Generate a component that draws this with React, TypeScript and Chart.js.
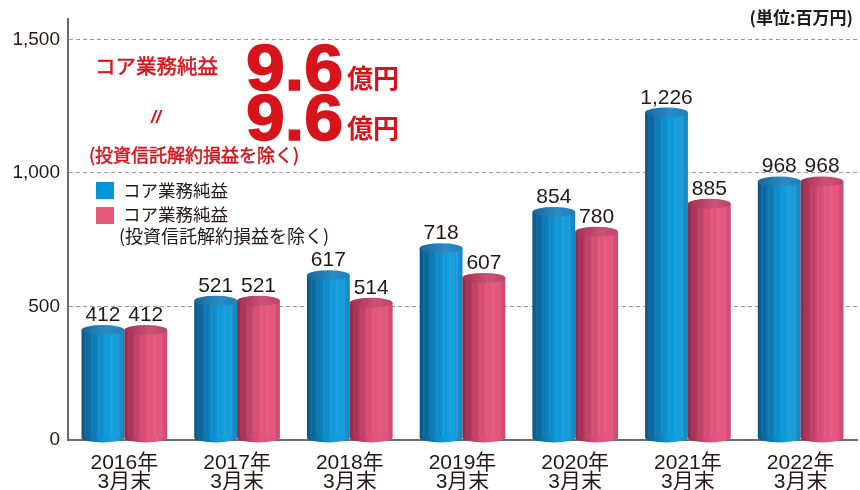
import React, { useEffect, useRef } from 'react';
import { Chart, registerables } from 'chart.js';

Chart.register(...registerables);

const years = ['2016年', '2017年', '2018年', '2019年', '2020年', '2021年', '2022年'];
const monthLabel = '3月末';
const coreProfit = [412, 521, 617, 718, 854, 1226, 968];
const coreProfitExcl = [412, 521, 514, 607, 780, 885, 968];
const yTicks = [0, 500, 1000, 1500];
const yMax = 1575;

const seriesNames = ['コア業務純益', 'コア業務純益(投資信託解約損益を除く)'];
const legendLines = [['コア業務純益'], ['コア業務純益', '(投資信託解約損益を除く)']];
const unitText = '(単位:百万円)';
const headline1 = 'コア業務純益';
const headlineNote = '(投資信託解約損益を除く)';
const headlineValue = '9.6';
const headlineUnit = '億円';

const LATIN = "'Liberation Sans', 'Noto Sans CJK JP', sans-serif";
const CJK = "'Noto Sans CJK JP', 'Liberation Sans', sans-serif";
const TEXT = '#231815';
const RED = '#d7141c';

const palettes = [
  {
    stops: ['#0a5684', '#0b6ea6', '#0a88c6', '#0c9ad9', '#1a9fdc', '#0f86c2'],
    top: ['#17689a', '#2b8cc4', '#1f7fb8'],
    swatch: '#0096d6',
  },
  {
    stops: ['#8f2648', '#b2385e', '#d24a72', '#e2557e', '#e4587f', '#cf4670'],
    top: ['#9e3052', '#cc5274', '#bd4467'],
    swatch: '#e5577b',
  },
];

const cylinderPlugin = {
  id: 'cylinders',
  afterDatasetsDraw(chart: any) {
    const ctx = chart.ctx;
    chart.data.datasets.forEach((ds: any, di: number) => {
      const meta = chart.getDatasetMeta(di);
      const pal = palettes[di];
      meta.data.forEach((bar: any, i: number) => {
        const { x, y, base, width } = bar.getProps(['x', 'y', 'base', 'width'], true);
        const rx = width / 2;
        const ry = 5;
        const bBase = base - 2;
        ctx.save();
        const g = ctx.createLinearGradient(x - rx, 0, x + rx, 0);
        const n = pal.stops.length;
        pal.stops.forEach((c: string, k: number) => g.addColorStop(k / (n - 1), c));
        ctx.beginPath();
        ctx.moveTo(x - rx, y);
        ctx.lineTo(x - rx, bBase);
        ctx.ellipse(x, bBase, rx, ry, 0, Math.PI, 0, true);
        ctx.lineTo(x + rx, y);
        ctx.closePath();
        ctx.fillStyle = g;
        ctx.fill();
        ctx.globalAlpha = 0.08;
        ctx.fillStyle = '#ffffff';
        for (let s = 0; s < 6; s++) {
          const sx = x - rx + (width * (s * 2 + 1)) / 13;
          ctx.fillRect(sx, y, 1.5, bBase - y);
        }
        ctx.globalAlpha = 1;
        const tg = ctx.createLinearGradient(x - rx, 0, x + rx, 0);
        tg.addColorStop(0, pal.top[0]);
        tg.addColorStop(0.6, pal.top[1]);
        tg.addColorStop(1, pal.top[2]);
        ctx.beginPath();
        ctx.ellipse(x, y, rx, ry, 0, 0, Math.PI * 2);
        ctx.fillStyle = tg;
        ctx.fill();
        const v = ds.data[i];
        ctx.fillStyle = TEXT;
        ctx.font = `21px ${LATIN}`;
        ctx.textAlign = 'center';
        ctx.textBaseline = 'alphabetic';
        ctx.fillText(v.toLocaleString('en-US'), x, y - ry - 4);
        ctx.restore();
      });
    });
  },
  afterDraw(chart: any) {
    const ctx = chart.ctx;
    ctx.save();
    // unit
    ctx.fillStyle = TEXT;
    ctx.font = `bold 17px ${CJK}`;
    ctx.textBaseline = 'middle';
    ctx.textAlign = 'right';
    ctx.fillText(unitText, 853, 18);
    ctx.textAlign = 'left';

    // headline
    ctx.fillStyle = RED;
    ctx.strokeStyle = RED;
    ctx.font = `20.5px ${CJK}`;
    ctx.textBaseline = 'middle';
    ctx.fillText(headline1, 95, 66.5);
    ctx.lineWidth = 0.5;
    ctx.strokeText(headline1, 95, 66.5);
    ctx.font = `italic bold 18px ${LATIN}`;
    ctx.fillText('//', 151, 118);
    ctx.font = `18px ${CJK}`;
    ctx.fillText(headlineNote, 89, 155.5);
    ctx.strokeText(headlineNote, 89, 155.5);

    ctx.font = `bold 64px ${LATIN}`;
    ctx.textBaseline = 'alphabetic';
    ctx.lineWidth = 1.5;
    [90, 140].forEach((by) => {
      ctx.save();
      ctx.translate(246, by);
      ctx.scale(1.09, 1);
      ctx.fillText(headlineValue, 0, 0);
      ctx.strokeText(headlineValue, 0, 0);
      ctx.restore();
    });
    ctx.font = `bold 26px ${CJK}`;
    ctx.textBaseline = 'middle';
    ctx.fillText(headlineUnit, 347, 78.5);
    ctx.fillText(headlineUnit, 347, 128.5);

    // legend
    ctx.fillStyle = palettes[0].swatch;
    ctx.fillRect(96, 182, 18, 17);
    ctx.fillStyle = palettes[1].swatch;
    ctx.fillRect(96, 207, 18, 17);
    ctx.fillStyle = TEXT;
    ctx.font = `17.5px ${CJK}`;
    ctx.fillText(legendLines[0][0], 123, 190);
    ctx.fillText(legendLines[1][0], 123, 214.5);
    ctx.font = `18px ${CJK}`;
    ctx.fillText(legendLines[1][1], 119, 236);
    ctx.restore();
  },
};

export default function App() {
  const ref = useRef<HTMLCanvasElement | null>(null);
  useEffect(() => {
    document.body.style.margin = '0';
    const canvas = ref.current!;
    const chart = new Chart(canvas, {
      type: 'bar',
      data: {
        labels: years.map((y) => [y, monthLabel]),
        datasets: [
          { label: seriesNames[0], data: coreProfit, backgroundColor: 'rgba(0,0,0,0)', borderWidth: 0 },
          { label: seriesNames[1], data: coreProfitExcl, backgroundColor: 'rgba(0,0,0,0)', borderWidth: 0 },
        ],
      },
      options: {
        animation: false,
        responsive: false,
        maintainAspectRatio: false,
        layout: { padding: { left: 0, right: 3, top: 18, bottom: 0 } },
        datasets: { bar: { categoryPercentage: 0.76, barPercentage: 1.0 } },
        plugins: { legend: { display: false }, tooltip: { enabled: false } },
        scales: {
          x: {
            grid: { display: false },
            border: { display: true, color: '#6b6b6b', width: 2 },
            ticks: {
              color: TEXT,
              font: { family: LATIN, size: 21, lineHeight: 0.88 },
              padding: 6,
              maxRotation: 0,
            },
            afterFit: (s: any) => {
              s.height = 50;
            },
          },
          y: {
            min: 0,
            max: yMax,
            afterBuildTicks: (s: any) => {
              s.ticks = yTicks.map((v) => ({ value: v }));
            },
            grid: {
              color: (c: any) => (c.tick && c.tick.value === 0 ? 'rgba(0,0,0,0)' : '#9a9a9a'),
              lineWidth: 1,
              drawTicks: false,
            },
            border: { display: true, color: '#6b6b6b', width: 2, dash: [4, 3] },
            ticks: {
              color: TEXT,
              font: { family: LATIN, size: 19 },
              padding: 8,
              callback: (v: any) => Number(v).toLocaleString('en-US'),
            },
            afterFit: (s: any) => {
              s.width = 68;
            },
          },
        },
      },
      plugins: [cylinderPlugin],
    });
    return () => chart.destroy();
  }, []);
  return (
    <div style={{ width: 860, height: 490, position: 'relative' }}>
      <canvas ref={ref} width={860} height={490} style={{ display: 'block' }} />
    </div>
  );
}
